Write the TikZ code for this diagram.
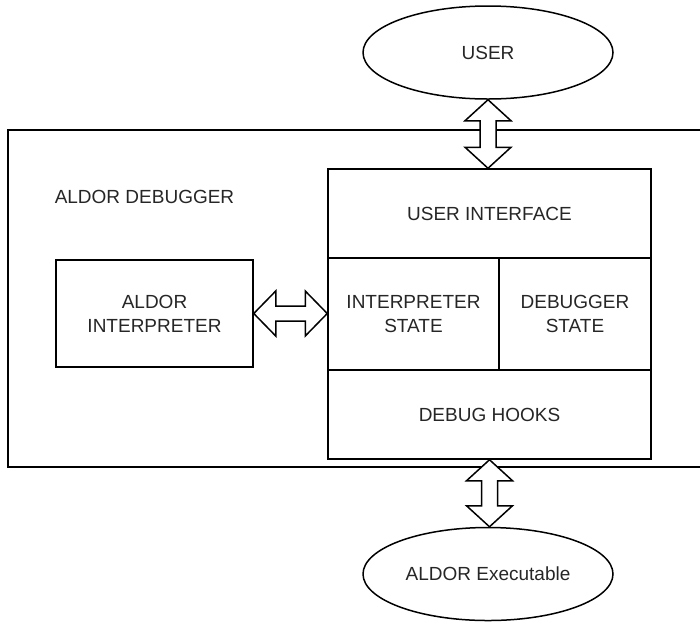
\documentclass[tikz,border=0pt]{standalone}
\usepackage{fontspec}
\setmainfont{Liberation Sans}
\usepackage{tikz}
\usetikzlibrary{calc,shapes}

\tikzset{
  part/.style={draw,rectangle,inner sep=0pt,align=center,font=\fontsize{19}{24}\selectfont},
  cloud/.style={draw,ellipse,inner sep=0pt,minimum width=250pt,minimum height=93pt,font=\fontsize{19}{24}\selectfont},
  fatarrow/.style={draw,fill=white,line width=1.5pt,line join=miter}
}

% hollow double arrow, top node to bottom node
\newcommand{\fatarrowv}[2]{%
  \draw[fatarrow] let \p1=(#1), \p2=(#2) in
    (\x1,\y1) -- (\x1+23pt,\y1-21pt) -- (\x1+8pt,\y1-21pt) -- (\x1+8pt,\y2+21pt)
    -- (\x1+23pt,\y2+21pt) -- (\x1,\y2) -- (\x1-23pt,\y2+21pt) -- (\x1-8pt,\y2+21pt)
    -- (\x1-8pt,\y1-21pt) -- (\x1-23pt,\y1-21pt) -- cycle;}
% hollow double arrow, left node to right node
\newcommand{\fatarrowh}[2]{%
  \draw[fatarrow] let \p1=(#1), \p2=(#2) in
    (\x1,\y1) -- (\x1+22pt,\y1+22.5pt) -- (\x1+22pt,\y1+7.5pt) -- (\x2-22pt,\y1+7.5pt)
    -- (\x2-22pt,\y1+22.5pt) -- (\x2,\y1) -- (\x2-22pt,\y1-22.5pt) -- (\x2-22pt,\y1-7.5pt)
    -- (\x1+22pt,\y1-7.5pt) -- (\x1+22pt,\y1-22.5pt) -- cycle;}

\begin{document}
\begin{tikzpicture}[x=1pt,y=-1pt,line width=1.5pt,text=black!85]
  \useasboundingbox (0,0) rectangle (700,622);

  % outer frame
  \draw (710,130) -- (8,130) -- (8,467) -- (710,467);
  \node [anchor=base west,inner sep=0pt,font=\fontsize{19}{24}\selectfont] (dbg) at (54,203) {ALDOR DEBUGGER};

  \node [cloud] (user) at (488,52.5) {USER};
  \node [cloud] (exe) at (488,574) {ALDOR Executable};

  \node [part,minimum width=323pt,minimum height=89pt] (ui) at (489.5,213.5) {USER INTERFACE};
  \node [part,minimum width=171pt,minimum height=112pt] (istate) at (413.5,314) {INTERPRETER\\STATE};
  \node [part,minimum width=152pt,minimum height=112pt] (dstate) at (575,314) {DEBUGGER\\STATE};
  \node [part,minimum width=323pt,minimum height=89pt] (hooks) at (489.5,414.5) {DEBUG HOOKS};

  \node [part,minimum width=197pt,minimum height=107pt] (interp) at (154.5,313.5) {ALDOR\\INTERPRETER};

  \fatarrowv{user.south}{ui.north}
  \fatarrowv{hooks.south}{exe.north}
  \fatarrowh{interp.east}{istate.west}
\end{tikzpicture}
\end{document}
